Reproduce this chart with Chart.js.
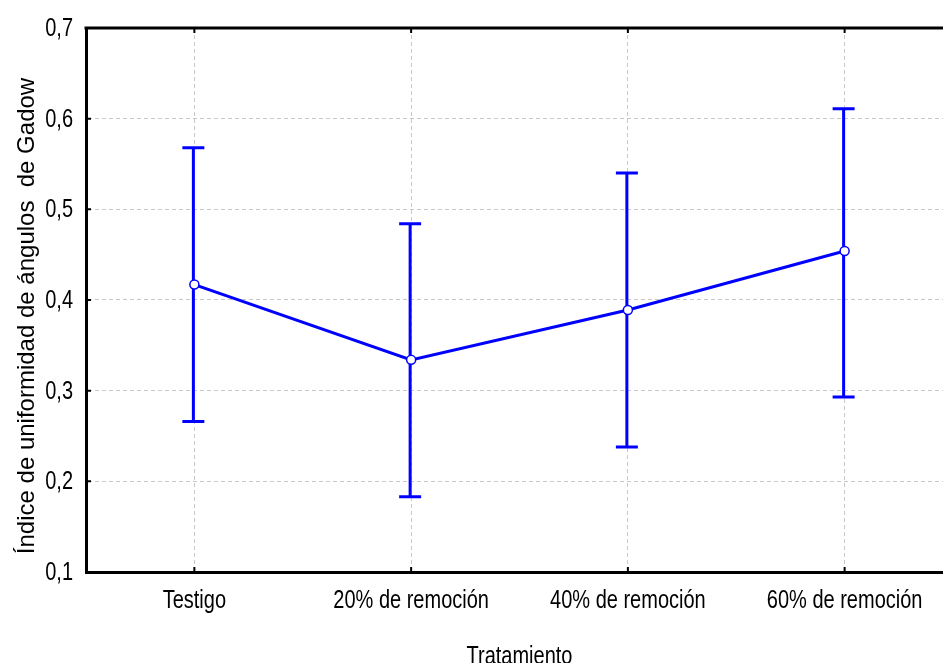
<!DOCTYPE html>
<html>
<head>
<meta charset="utf-8">
<script src="https://cdn.jsdelivr.net/npm/chart.js@4/dist/chart.umd.min.js"></script>
<style>
  html, body { margin: 0; padding: 0; background: #fff; overflow: hidden; }
  #wrap { width: 943px; height: 663px; overflow: hidden; position: relative; }
  #c { position: absolute; left: 0; top: 0; }
</style>
</head>
<body>
<div id="wrap"><canvas id="c" width="960" height="690"></canvas></div>
<script>
const categories = ['Testigo', '20% de remoción', '40% de remoción', '60% de remoción'];
const means = [0.417, 0.334, 0.389, 0.454];
const upper = [0.568, 0.484, 0.540, 0.611];
const lower = [0.266, 0.183, 0.238, 0.293];
const yTicks = [0.1, 0.2, 0.3, 0.4, 0.5, 0.6, 0.7];
const xTitle = 'Tratamiento';
const yTitle = 'Índice de uniformidad de ángulos  de Gadow';

const BLUE = '#0000ff';
const FONT = '"Liberation Sans", Arial, sans-serif';
const SX = 0.8; // horizontal condensing of the labels

const fmt = v => v.toFixed(1).replace('.', ',');

function narrowText(ctx, text, x, y, align, baseline) {
  ctx.save();
  ctx.translate(x, y);
  ctx.scale(SX, 1);
  ctx.textAlign = align;
  ctx.textBaseline = baseline;
  ctx.fillText(text, 0, 0);
  ctx.restore();
}

const errorBars = {
  id: 'errorBars',
  beforeDatasetsDraw(chart) {
    const { ctx, scales: { x, y } } = chart;
    ctx.save();
    ctx.strokeStyle = BLUE;
    ctx.lineWidth = 3;
    ctx.lineCap = 'butt';
    for (let i = 0; i < categories.length; i++) {
      const px = x.getPixelForValue(i) - 1;
      const pt = y.getPixelForValue(upper[i]);
      const pb = y.getPixelForValue(lower[i]);
      ctx.beginPath();
      ctx.moveTo(px, pt); ctx.lineTo(px, pb);
      ctx.moveTo(px - 11, pt); ctx.lineTo(px + 11, pt);
      ctx.moveTo(px - 11, pb); ctx.lineTo(px + 11, pb);
      ctx.stroke();
    }
    ctx.restore();
  }
};

const frame = {
  id: 'frame',
  afterDraw(chart) {
    const { ctx, chartArea: a, scales: { x, y } } = chart;
    ctx.save();
    ctx.strokeStyle = '#000';
    ctx.lineWidth = 3;
    ctx.beginPath();
    ctx.moveTo(a.left - 1.5, a.top); ctx.lineTo(a.right, a.top);
    ctx.stroke();
    ctx.lineWidth = 2;
    ctx.beginPath();
    y.ticks.forEach((t, i) => {
      const py = y.getPixelForTick(i);
      ctx.moveTo(a.left, py); ctx.lineTo(a.left + 5, py);
    });
    x.ticks.forEach((t, i) => {
      const px = x.getPixelForTick(i);
      ctx.moveTo(px, a.bottom); ctx.lineTo(px, a.bottom - 5);
      ctx.moveTo(px, a.top); ctx.lineTo(px, a.top + 5);
    });
    ctx.stroke();

    ctx.fillStyle = '#000';
    ctx.font = '25px ' + FONT;
    // y tick labels
    y.ticks.forEach((t, i) => {
      narrowText(ctx, fmt(t.value), a.left - 13, y.getPixelForTick(i) + 1, 'right', 'middle');
    });
    // x tick labels
    x.ticks.forEach((t, i) => {
      narrowText(ctx, categories[t.value], x.getPixelForTick(i), 608, 'center', 'alphabetic');
    });
    // axis titles
    narrowText(ctx, xTitle, (a.left + a.right) / 2, 664, 'center', 'alphabetic');
    ctx.translate(34, 316);
    ctx.rotate(-Math.PI / 2);
    ctx.font = '24px ' + FONT;
    ctx.textAlign = 'center';
    ctx.textBaseline = 'alphabetic';
    ctx.fillText(yTitle, 0, 0);
    ctx.restore();
  }
};

new Chart(document.getElementById('c'), {
  type: 'line',
  data: {
    labels: categories,
    datasets: [{
      data: means,
      borderColor: BLUE,
      borderWidth: 3,
      pointRadius: 4.5,
      pointBorderWidth: 1.5,
      pointBackgroundColor: '#ffffff',
      pointBorderColor: BLUE,
      tension: 0,
      fill: false
    }]
  },
  options: {
    responsive: false,
    animation: false,
    devicePixelRatio: 1,
    layout: { padding: { left: 0, right: 7, top: 28, bottom: 0 } },
    plugins: { legend: { display: false }, tooltip: { enabled: false } },
    scales: {
      x: {
        type: 'category',
        offset: true,
        afterFit(s) { s.height = 118; },
        grid: { offset: false, color: '#c8c8c8', lineWidth: 1, drawTicks: false },
        border: { color: '#000', width: 3, dash: [4, 3] },
        ticks: { display: false }
      },
      y: {
        min: 0.1,
        max: 0.7,
        afterFit(s) { s.width = 86; },
        afterBuildTicks(s) { s.ticks = yTicks.map(v => ({ value: v })); },
        grid: { color: '#c8c8c8', lineWidth: 1, drawTicks: false },
        border: { color: '#000', width: 3, dash: [4, 3] },
        ticks: { display: false }
      }
    }
  },
  plugins: [errorBars, frame]
});
</script>
</body>
</html>
